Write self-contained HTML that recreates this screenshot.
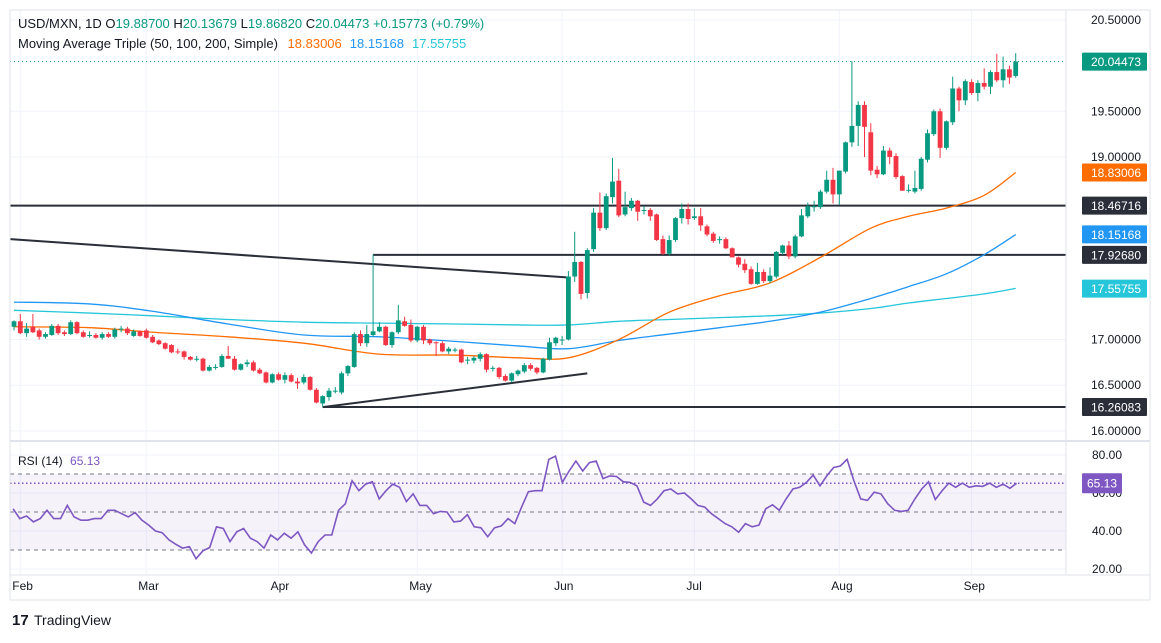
<!DOCTYPE html>
<html><head><meta charset="utf-8">
<style>
html,body{margin:0;padding:0;background:#fff;}
body{width:1161px;height:638px;overflow:hidden;font-family:"Liberation Sans","DejaVu Sans",sans-serif;}
svg text{font-family:"Liberation Sans","DejaVu Sans",sans-serif;}
</style></head>
<body>
<svg id="chart" width="1161" height="638" viewBox="0 0 1161 638" xmlns="http://www.w3.org/2000/svg">
  <rect x="0" y="0" width="1161" height="638" fill="#fff"/>
  <g id="grid"></g>
  <g id="levels"></g>
  <g id="mas"></g>
  <g id="candles"></g>
  <g id="rsi"></g>
  <g id="axes"></g>
  <rect x="10" y="10" width="1140" height="590" fill="none" stroke="#e0e3eb" stroke-width="1"/>
  <line x1="10" y1="441" x2="1150" y2="441" stroke="#e0e3eb" stroke-width="2"/>
  <line x1="1066" y1="10" x2="1066" y2="575" stroke="#e0e3eb" stroke-width="1"/>
  <line x1="10" y1="575" x2="1150" y2="575" stroke="#e0e3eb" stroke-width="1"/>
  <text x="18" y="28" font-size="13" fill="#131722">USD/MXN, 1D <tspan fill="#131722">O</tspan><tspan fill="#089981">19.88700</tspan> <tspan fill="#131722">H</tspan><tspan fill="#089981">20.13679</tspan> <tspan fill="#131722">L</tspan><tspan fill="#089981">19.86820</tspan> <tspan fill="#131722">C</tspan><tspan fill="#089981">20.04473 +0.15773 (+0.79%)</tspan></text>
  <text x="18" y="48" font-size="13" fill="#131722">Moving Average Triple (50, 100, 200, Simple) <tspan fill="#ff6d00" dx="6">18.83006</tspan><tspan fill="#2196f3" dx="8">18.15168</tspan><tspan fill="#26c6da" dx="8">17.55755</tspan></text>
  <text x="18" y="465" font-size="12" fill="#131722">RSI (14) <tspan fill="#7e57c2" dx="4">65.13</tspan></text>
  <g>
    <text x="12" y="625" font-size="15" font-weight="bold" fill="#131722">17</text>
    <text x="34" y="625" font-size="14" fill="#131722">TradingView</text>
  </g>
</svg>
<script>
// ---- data ----
const opens  = [17.14,17.20,17.07,17.14,17.10,17.03,17.05,17.15,17.08,17.06,17.19,17.08,17.05,17.05,17.02,17.06,17.03,17.11,17.12,17.04,17.09,17.10,17.03,16.99,16.96,16.94,16.87,16.87,16.81,16.78,16.79,16.66,16.70,16.70,16.82,16.79,16.67,16.73,16.75,16.67,16.64,16.53,16.62,16.56,16.61,16.54,16.53,16.59,16.45,16.30,16.37,16.44,16.42,16.63,16.70,17.06,16.96,17.05,17.09,17.14,16.94,17.08,17.20,17.16,16.99,17.14,17.00,16.97,16.96,16.87,16.89,16.89,16.77,16.77,16.79,16.84,16.68,16.69,16.60,16.55,16.62,16.65,16.72,16.69,16.64,16.78,16.96,17.00,17.00,17.69,17.85,17.51,17.99,18.39,18.22,18.56,18.74,18.37,18.44,18.52,18.42,18.42,18.37,18.10,17.94,18.09,18.33,18.43,18.33,18.35,18.24,18.16,18.10,18.10,18.00,17.90,17.83,17.77,17.61,17.74,17.64,17.69,17.95,18.03,17.91,18.13,18.35,18.45,18.45,18.62,18.75,18.59,18.84,19.16,19.34,19.57,19.27,18.86,18.81,19.07,19.01,18.79,18.64,18.62,18.65,18.97,19.25,19.50,19.10,19.38,19.75,19.62,19.82,19.70,19.81,19.77,19.93,19.84,19.96,19.887];
const highs  = [17.21,17.28,17.18,17.28,17.12,17.08,17.17,17.17,17.10,17.21,17.20,17.10,17.09,17.07,17.08,17.08,17.13,17.15,17.14,17.11,17.10,17.12,17.05,17.00,16.97,16.95,16.90,16.88,16.82,16.82,16.80,16.72,16.73,16.84,16.93,16.82,16.74,16.78,16.77,16.69,16.65,16.63,16.64,16.64,16.63,16.58,16.62,16.60,16.47,16.39,16.47,16.48,16.65,16.72,17.08,17.10,17.16,17.93,17.19,17.15,17.09,17.38,17.25,17.22,17.15,17.16,17.01,16.98,16.98,16.92,16.91,16.90,16.81,16.82,16.86,16.85,16.71,16.70,16.62,16.64,16.67,16.74,16.74,16.70,16.80,17.02,17.03,17.04,17.75,18.18,17.86,18.00,18.44,18.61,18.60,18.99,18.87,18.62,18.55,18.53,18.46,18.44,18.38,18.14,18.14,18.34,18.49,18.49,18.44,18.44,18.26,18.18,18.13,18.12,18.01,17.91,17.88,17.80,17.84,17.77,17.79,17.97,18.04,18.08,18.15,18.43,18.50,18.52,18.64,18.85,18.88,18.85,19.17,20.05,19.61,19.61,19.37,18.90,19.12,19.10,19.04,18.80,18.70,18.85,19.00,19.30,19.52,19.53,19.40,19.88,19.77,19.85,19.85,19.84,19.97,19.95,20.13,20.10,20.00,20.137];
const lows   = [17.10,17.06,17.03,17.07,17.00,17.01,17.04,17.05,17.04,17.05,17.06,17.02,17.02,17.01,17.00,17.02,17.01,17.08,17.05,17.03,17.03,17.01,16.96,16.94,16.89,16.85,16.84,16.78,16.77,16.76,16.65,16.65,16.67,16.69,16.79,16.66,16.66,16.70,16.65,16.62,16.52,16.52,16.55,16.52,16.53,16.46,16.51,16.44,16.30,16.26,16.33,16.41,16.40,16.60,16.69,16.93,16.92,17.03,17.08,16.93,16.91,17.06,17.14,16.97,16.97,16.95,16.94,16.82,16.86,16.84,16.86,16.74,16.73,16.74,16.76,16.64,16.65,16.57,16.54,16.53,16.60,16.63,16.66,16.62,16.63,16.77,16.93,16.94,16.99,17.63,17.44,17.45,17.96,18.19,18.20,18.49,18.34,18.35,18.41,18.30,18.37,18.30,18.08,17.93,17.92,18.07,18.27,18.26,18.31,18.19,18.13,18.06,18.05,17.99,17.90,17.79,17.73,17.60,17.60,17.62,17.62,17.67,17.93,17.88,17.89,18.12,18.33,18.40,18.43,18.60,18.49,18.48,18.82,19.11,19.12,19.00,18.80,18.77,18.80,18.92,18.76,18.63,18.61,18.60,18.63,18.94,19.23,18.99,19.08,19.35,19.50,19.57,19.68,19.61,19.74,19.69,19.82,19.76,19.80,19.868];
const closes = [17.20,17.07,17.12,17.08,17.03,17.06,17.15,17.07,17.06,17.19,17.07,17.03,17.05,17.02,17.06,17.03,17.11,17.12,17.07,17.09,17.04,17.02,16.97,16.95,16.90,16.86,16.86,16.81,16.78,16.79,16.66,16.70,16.70,16.82,16.79,16.67,16.73,16.75,16.66,16.63,16.53,16.62,16.56,16.61,16.54,16.52,16.59,16.45,16.31,16.38,16.44,16.44,16.63,16.71,17.06,16.96,17.06,17.09,17.14,16.94,17.08,17.21,17.15,16.99,17.14,16.99,16.96,16.96,16.87,16.90,16.89,16.75,16.78,16.80,16.84,16.67,16.69,16.59,16.55,16.63,16.66,16.72,16.68,16.64,16.79,16.97,17.02,17.00,17.69,17.85,17.50,17.98,18.39,18.22,18.57,18.73,18.36,18.45,18.52,18.40,18.42,18.35,18.09,17.94,18.09,18.33,18.43,18.32,18.35,18.25,18.15,18.08,18.10,18.00,17.90,17.82,17.76,17.61,17.74,17.64,17.70,17.96,18.03,17.91,18.13,18.36,18.46,18.46,18.62,18.75,18.59,18.85,19.16,19.34,19.57,19.33,18.85,18.81,19.07,19.00,18.78,18.63,18.64,18.66,18.98,19.26,19.50,19.10,19.39,19.75,19.62,19.83,19.70,19.81,19.77,19.93,19.84,19.96,19.87,20.045];
// moving averages: sampled at candle indices
const maIdx    = [0,12,22,34,46,58,70,80,88,96,104,112,120,128,136,142,148,154,159];
const ma50     = [17.14,17.13,17.08,17.03,16.96,16.84,16.83,16.80,16.80,17.00,17.30,17.48,17.62,17.90,18.22,18.35,18.44,18.58,18.83];
const ma100    = [17.41,17.39,17.31,17.17,17.05,17.03,16.98,16.93,16.90,16.99,17.06,17.13,17.20,17.30,17.45,17.58,17.72,17.93,18.15];
const ma200    = [17.32,17.29,17.26,17.22,17.19,17.18,17.17,17.16,17.16,17.20,17.22,17.24,17.26,17.29,17.34,17.40,17.45,17.50,17.56];
const rsiVals  = [51.7,46.5,47.9,44.8,46.5,50.9,46.5,46.5,53.5,47.4,45.7,45.7,46.5,46.5,50.9,50.9,49.1,47.4,49.7,45.7,43.1,40.0,39.1,35.3,33.0,31.0,31.8,25.4,29.6,31.3,42.2,41.3,34.4,39.6,41.3,36.2,34.4,31.0,37.9,35.3,38.8,36.2,39.6,32.7,28.4,34.4,37.9,37.9,50.9,54.3,66.4,61.2,64.7,65.9,56.9,61.2,64.7,63.0,55.5,59.5,53.5,53.5,49.1,50.3,50.0,44.8,45.2,48.6,42.2,41.7,37.0,41.7,42.7,46.5,43.9,52.6,60.7,61.2,61.2,77.7,79.4,65.6,71.6,76.8,71.6,76.0,76.8,67.6,69.0,68.7,65.9,65.6,63.8,55.2,53.5,56.9,61.2,62.1,59.5,60.0,56.9,53.5,52.6,49.1,46.5,43.9,42.2,39.3,43.9,42.2,43.1,51.7,53.8,50.9,56.9,62.1,63.0,65.6,69.4,63.8,69.0,73.4,74.2,77.7,66.4,56.9,56.1,60.4,59.5,54.3,50.9,50.3,50.9,56.9,62.1,65.9,56.6,61.2,65.2,63.0,65.2,63.0,63.8,63.5,65.2,63.0,64.7,62.5,65.13];
const priceTicks = [20.5,19.5,19.0,17.0,16.5,16.0];
const rsiTicks   = [80,60,40,20];
const monthLabels = ["Feb","Mar","Apr","May","Jun","Jul","Aug","Sep"];
const monthIdx    = [1,21,42,64,87,108,131,152];
const levelPrices = [18.46716,17.9268,16.26083];
const levelStart  = [0,57,49];
const badgeVals   = ["20.04473","18.83006","18.46716","18.15168","17.92680","17.55755","16.26083"];
const badgePrices = [20.04473,18.83006,18.46716,18.15168,17.9268,17.55755,16.26083];
const badgeColors = ["#089981","#ff6d00","#2a2e39","#2196f3","#2a2e39","#26c6da","#2a2e39"];
const trendA = [[-0.6,18.10],[88,17.68]];
const trendB = [[49,16.26],[91,16.63]];

// ---- scales ----
const NS="http://www.w3.org/2000/svg";
const xOf = i => 14 + i*6.3;
const yP  = p => 20 + (20.5-p)*91.3;
const yR  = v => 512 - (v-50)*1.9;
function mk(tag, attrs, parent){const e=document.createElementNS(NS,tag);for(const k in attrs)e.setAttribute(k,attrs[k]);parent.appendChild(e);return e;}
const gGrid=document.getElementById('grid'), gLev=document.getElementById('levels'), gMa=document.getElementById('mas'),
      gC=document.getElementById('candles'), gR=document.getElementById('rsi'), gAx=document.getElementById('axes');

// grid
monthIdx.forEach((mi,k)=>{
  const l=mk('line',{x1:xOf(mi),x2:xOf(mi),y1:10,y2:575,stroke:'#f0f3fa','stroke-width':1},gGrid);
  
  
  const t=mk('text',{x:xOf(mi)-8,y:590,'font-size':12,fill:'#131722'},gAx);
  t.textContent=monthLabels[k];
  
  
});
priceTicks.forEach(p=>{
  const l=mk('line',{x1:10,x2:1066,y1:yP(p),y2:yP(p),stroke:'#f0f3fa','stroke-width':1},gGrid);
  
  
  const t=mk('text',{x:1141,y:yP(p)+4,'font-size':12,fill:'#131722','text-anchor':'end'},gAx);
  t.textContent=p.toFixed(5);
  
  
});
rsiTicks.forEach(v=>{
  const l=mk('line',{x1:10,x2:1066,y1:yR(v),y2:yR(v),stroke:'#f0f3fa','stroke-width':1},gGrid);
  
  
  const t=mk('text',{x:1122,y:yR(v)+4,'font-size':12,fill:'#131722','text-anchor':'end'},gAx);
  t.textContent=v.toFixed(2);
  
  
});

// levels + trendlines
levelPrices.forEach((p,k)=>{
  const l=mk('line',{x1:k===0?10:xOf(levelStart[k]),x2:1066,y1:yP(p),y2:yP(p),stroke:'#2a2e39','stroke-width':2},gLev);
  
  
});
[trendA,trendB].forEach(t=>{
  const l=mk('line',{x1:xOf(t[0][0]),y1:yP(t[0][1]),x2:xOf(t[1][0]),y2:yP(t[1][1]),stroke:'#2a2e39','stroke-width':2},gLev);
  
  
});
const lastY=yP(closes[closes.length-1]);
const dl=mk('line',{x1:10,x2:1066,y1:lastY,y2:lastY,stroke:'#089981','stroke-width':1,'stroke-dasharray':'1,3'},gLev);



// moving averages (Catmull-Rom)
function crPath(xs,ys){
  let d=`M${xs[0]},${ys[0]}`;
  for(let i=0;i<xs.length-1;i++){
    const x0=xs[Math.max(0,i-1)],y0=ys[Math.max(0,i-1)],x1=xs[i],y1=ys[i],x2=xs[i+1],y2=ys[i+1],x3=xs[Math.min(xs.length-1,i+2)],y3=ys[Math.min(xs.length-1,i+2)];
    d+=` C${x1+(x2-x0)/6},${y1+(y2-y0)/6} ${x2-(x3-x1)/6},${y2-(y3-y1)/6} ${x2},${y2}`;
  }
  return d;
}
[[ma200,'#26c6da','ma-200-line'],[ma100,'#2196f3','ma-100-line'],[ma50,'#ff6d00','ma-50-line']].forEach(([arr,col,name])=>{
  const p=mk('path',{d:crPath(maIdx.map(xOf),arr.map(yP)),fill:'none',stroke:col,'stroke-width':1.3},gMa);
  
  
});

// candles
closes.forEach((c,i)=>{
  const o=opens[i],up=c>=o,col=up?'#089981':'#f23645',x=xOf(i);
  const g=mk('g',{},gC);
  
  
  mk('line',{x1:x,x2:x,y1:yP(highs[i]),y2:yP(lows[i]),stroke:col,'stroke-width':1},g);
  const top=yP(Math.max(o,c)),bot=yP(Math.min(o,c));
  mk('rect',{x:x-2.4,y:top,width:4.8,height:Math.max(1,bot-top),fill:col},g);
});

// RSI pane
const band=mk('rect',{x:10,y:yR(70),width:1056,height:yR(30)-yR(70),fill:'#7e57c2','fill-opacity':0.08},gR);


[70,50,30].forEach(v=>{
  const l=mk('line',{x1:10,x2:1066,y1:yR(v),y2:yR(v),stroke:'#787b86','stroke-width':1,'stroke-dasharray':'4,4'},gR);
  
  
});
const lastR=rsiVals[rsiVals.length-1];
const rl=mk('line',{x1:10,x2:1066,y1:yR(lastR),y2:yR(lastR),stroke:'#7e57c2','stroke-width':1.5,'stroke-dasharray':'1.5,2.5'},gR);


const n=rsiVals.length, rx=k=>xOf(-0.15 + k*(159.3/(n-1)));
const rp=mk('polyline',{points:rsiVals.map((v,k)=>`${rx(k).toFixed(1)},${yR(v).toFixed(1)}`).join(' '),fill:'none',stroke:'#7e57c2','stroke-width':1.6},gR);


const rb=mk('rect',{x:1082,y:yR(lastR)-10,width:40,height:20,fill:'#7e57c2',rx:1},gAx);


const rbt=mk('text',{x:1102,y:yR(lastR)+4,'font-size':12,fill:'#fff','text-anchor':'middle'},gAx);
rbt.textContent=lastR.toFixed(2);



// price badges
badgeVals.forEach((s,k)=>{
  const y=yP(badgePrices[k]);
  const r=mk('rect',{x:1082,y:y-9,width:65,height:18,fill:badgeColors[k],rx:1},gAx);
  
  
  const t=mk('text',{x:1141,y:y+4.5,'font-size':12,fill:'#fff','text-anchor':'end'},gAx);
  t.textContent=s;
  
  
});
</script>
</body></html>
